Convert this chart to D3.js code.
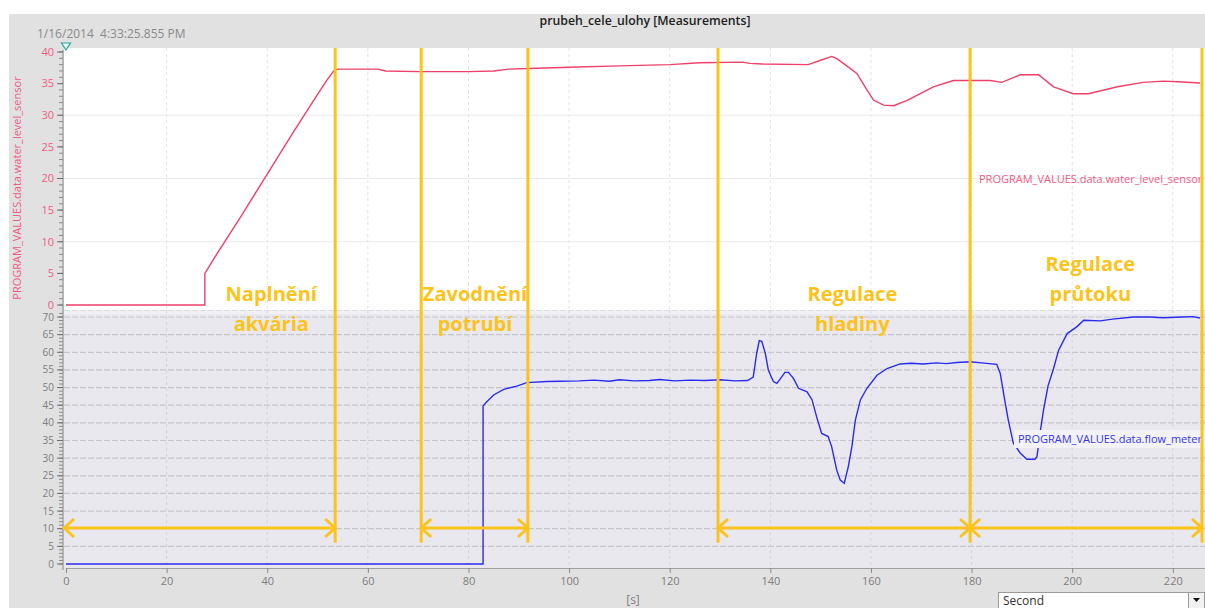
<!DOCTYPE html>
<html>
<head>
<meta charset="utf-8">
<script src="https://cdn.jsdelivr.net/npm/d3@7/dist/d3.min.js"></script>
<style>
  html, body { margin: 0; padding: 0; background: #ffffff; }
  svg { display: block; }
  text { font-family: "Open Sans", "Noto Sans", sans-serif; }
</style>
</head>
<body>
<svg id="chart" width="1205" height="608"></svg>
<script>
// ---- Recorded measurements: time [s] and value ----
const waterTime = [0, 27.6, 27.6, 30, 35, 40, 45, 50, 52, 53.2, 54, 58, 62, 63.5, 70, 80, 85, 88, 92, 100, 110, 120, 126, 134.4, 136, 138.4, 147.5, 150, 152.2, 153.3, 154.5, 157.2, 159.2, 160.5, 162.5, 164.5, 167.1, 169.8, 172.4, 176.4, 183.7, 186, 189.7, 193.3, 196.3, 200.2, 203.2, 209, 214.1, 218.1, 221, 225.4];
const waterLevel = [0, 0, 5.0, 8.1, 14.3, 20.7, 27.1, 33.3, 35.7, 37.0, 37.3, 37.3, 37.3, 37.0, 36.9, 36.9, 37.0, 37.3, 37.4, 37.6, 37.8, 38.0, 38.3, 38.4, 38.2, 38.1, 38.0, 38.7, 39.3, 38.9, 38.2, 36.6, 34.0, 32.4, 31.6, 31.5, 32.3, 33.4, 34.5, 35.5, 35.5, 35.2, 36.4, 36.4, 34.5, 33.4, 33.4, 34.5, 35.2, 35.4, 35.3, 35.1];

const flowTime = [0, 82.9, 82.9, 83.5, 85, 87, 89.6, 91.6, 95.6, 98.2, 102, 105, 108, 110, 113, 116, 118, 121, 124, 127, 130, 133, 135.5, 136.6, 137.3, 137.8, 138.3, 139, 139.6, 140.6, 141.3, 142.3, 142.9, 143.6, 144.6, 145.6, 147.3, 148.3, 149.2, 150.2, 151.5, 152.2, 153.2, 153.9, 154.7, 155.5, 156.2, 156.9, 157.9, 159.2, 161.2, 163.2, 165.8, 168, 170.4, 173, 175, 177.1, 179.7, 182, 185, 185.7, 186.7, 187.3, 188.3, 189.7, 191, 192.6, 193, 193.6, 194.3, 195.2, 196.3, 197.3, 199, 200.9, 202.3, 205.6, 208, 212.2, 215.5, 218, 222, 224, 225.4];
const flowValue = [0, 0, 44.8, 45.8, 47.9, 49.5, 50.4, 51.4, 51.7, 51.8, 51.9, 52.1, 51.8, 52.2, 51.9, 52.0, 52.3, 51.9, 52.1, 52.0, 52.2, 51.9, 52.0, 53.0, 59.8, 63.3, 63.1, 59.7, 55.0, 51.7, 51.2, 53.1, 54.3, 54.3, 52.6, 49.8, 48.8, 46.5, 41.7, 37.0, 36.1, 33.2, 26.6, 23.8, 22.9, 27.6, 33.2, 40.8, 46.5, 49.8, 53.5, 55.4, 56.7, 56.9, 56.7, 57.0, 56.8, 57.1, 57.3, 57.0, 56.6, 54.0, 45.5, 40.8, 34.2, 31.4, 29.7, 29.7, 30.4, 37.0, 43.6, 50.5, 55.4, 60.6, 65.3, 67.2, 69.1, 68.9, 69.4, 70.0, 70.0, 69.8, 70.0, 70.1, 69.7];

// ---- Phases of the task ----
const phaseBounds = [53.5, 70.6, 91.8, 129.6, 179.7, 225.8];
const phaseSpans = [[0, 53.5], [70.6, 91.8], [129.6, 179.7], [179.7, 225.8]];
const phaseLines1 = ["Naplnění", "Zavodnění", "Regulace", "Regulace"];
const phaseLines2 = ["akvária", "potrubí", "hladiny", "průtoku"];
const phaseCenters = [40.8, 81.3, 156.3, 203.6];

// ---- Axis ticks ----
const timeTicks = [0, 20, 40, 60, 80, 100, 120, 140, 160, 180, 200, 220];
const waterTicks = [0, 5, 10, 15, 20, 25, 30, 35, 40];
const flowTicks = [0, 5, 10, 15, 20, 25, 30, 35, 40, 45, 50, 55, 60, 65, 70];

// ---- Drawing ----
const svg = d3.select("#chart");
const W = 1205, H = 608;
const plotL = 64, plotR = 1205;
const topY0 = 48, topY1 = 310, botY0 = 310, botY1 = 568;

const x = d3.scaleLinear().domain([0, 226.4]).range([66, 1205]);
const yTop = d3.scaleLinear().domain([0, 40]).range([305, 52]);
const yBot = d3.scaleLinear().domain([0, 70]).range([564, 317]);

const pink = "#f0406a", pinkText = "#f15b83", blue = "#2a2af0", yellow = "#fcc31a";
const grayText = "#7d7d7d";

// window chrome
svg.append("rect").attr("x", 9).attr("y", 14).attr("width", W - 9).attr("height", H - 14).attr("fill", "#e1e1e1");

svg.append("text").attr("x", 645).attr("y", 25).attr("text-anchor", "middle")
  .attr("font-family", "Liberation Sans, Arial, sans-serif").attr("font-size", 12).attr("font-weight", 600)
  .attr("textLength", 211).attr("lengthAdjust", "spacingAndGlyphs").attr("fill", "#222")
  .text("prubeh_cele_ulohy [Measurements]");

svg.append("text").attr("x", 37).attr("y", 38).attr("font-size", 12).attr("fill", "#8a8a8a")
  .style("white-space", "pre").text("1/16/2014  4:33:25.855 PM");

// panels
svg.append("rect").attr("x", plotL).attr("y", topY0).attr("width", plotR - plotL).attr("height", topY1 - topY0).attr("fill", "#ffffff");
svg.append("rect").attr("x", plotL).attr("y", botY0).attr("width", plotR - plotL).attr("height", botY1 - botY0).attr("fill", "#e9e8ee");
svg.append("rect").attr("x", plotL).attr("y", botY0).attr("width", plotR - plotL).attr("height", 4).attr("fill", "#f1f0f4");

const defs = svg.append("defs");
defs.append("clipPath").attr("id", "clipTop").append("rect")
  .attr("x", plotL).attr("y", topY0).attr("width", plotR - plotL).attr("height", topY1 - topY0);
defs.append("clipPath").attr("id", "clipBot").append("rect")
  .attr("x", plotL).attr("y", botY0).attr("width", plotR - plotL).attr("height", botY1 - botY0);

// grid: upper panel
const gTop = svg.append("g").attr("clip-path", "url(#clipTop)");
gTop.selectAll("line.h").data([10, 20, 30]).join("line")
  .attr("x1", plotL).attr("x2", plotR).attr("y1", d => yTop(d)).attr("y2", d => yTop(d))
  .attr("stroke", "#ebebeb").attr("stroke-width", 1);
gTop.selectAll("line.v").data(timeTicks.slice(1)).join("line")
  .attr("x1", d => x(d)).attr("x2", d => x(d)).attr("y1", topY0).attr("y2", topY1)
  .attr("stroke", "#e2e2e2").attr("stroke-dasharray", "3,3");

// grid: lower panel
const gBot = svg.append("g").attr("clip-path", "url(#clipBot)");
gBot.selectAll("line.h").data(flowTicks.slice(1).concat([72])).join("line")
  .attr("x1", plotL).attr("x2", plotR).attr("y1", d => yBot(d)).attr("y2", d => yBot(d))
  .attr("stroke", "#c6c6ca").attr("stroke-width", 1.2).attr("stroke-dasharray", "6,2");
gBot.selectAll("line.v").data(timeTicks.slice(1)).join("line")
  .attr("x1", d => x(d)).attr("x2", d => x(d)).attr("y1", botY0).attr("y2", botY1)
  .attr("stroke", "#d2d2d8").attr("stroke-dasharray", "3,3");

// axes
function yAxisGroup(scale, ticks, minorMax, color, fontSize) {
  const g = svg.append("g");
  const minor = d3.range(0, minorMax + 1);
  g.selectAll("line.minor").data(minor).join("line")
    .attr("x1", 59).attr("x2", 63).attr("y1", d => scale(d)).attr("y2", d => scale(d))
    .attr("stroke", "#8a8a8a");
  g.selectAll("line.major").data(ticks).join("line")
    .attr("x1", 57).attr("x2", 63).attr("y1", d => scale(d)).attr("y2", d => scale(d))
    .attr("stroke", "#6f6f6f");
  g.selectAll("text").data(ticks).join("text")
    .attr("x", 54).attr("y", d => scale(d)).attr("dy", "0.35em").attr("text-anchor", "end")
    .attr("font-size", fontSize).attr("fill", color).text(d => d);
  return g;
}
svg.append("line").attr("x1", 63).attr("x2", 63).attr("y1", 50).attr("y2", 570).attr("stroke", "#8a8a8a");
yAxisGroup(yTop, waterTicks, 40, pinkText, 11);
yAxisGroup(yBot, flowTicks, 71, grayText, 10);

svg.append("text").attr("transform", "translate(21,188) rotate(-90)").attr("text-anchor", "middle")
  .attr("font-size", 11).attr("fill", pinkText).text("PROGRAM_VALUES.data.water_level_sensor");

// x axis
const xAxis = d3.axisBottom(x).tickValues(timeTicks).tickSize(5).tickPadding(4).tickFormat(d3.format("d"));
const gx = svg.append("g").attr("transform", `translate(0,${botY1})`).call(xAxis);
gx.select(".domain").attr("stroke", "#a0a0a0");
gx.selectAll(".tick line").attr("stroke", "#8a8a8a");
gx.selectAll(".tick text").attr("font-size", 11).attr("fill", grayText).attr("font-family", "Open Sans, sans-serif");
svg.append("text").attr("x", 633).attr("y", 604).attr("text-anchor", "middle").attr("font-size", 12).attr("fill", grayText).text("[s]");

// cursor marker
svg.append("path").attr("d", "M61.5,43 L70.5,43 L66,50 Z").attr("fill", "#e8f6f4").attr("stroke", "#27a39b").attr("stroke-width", 1.2);

// series
const waterData = waterTime.map((t, i) => [t, waterLevel[i]]);
const flowData = flowTime.map((t, i) => [t, flowValue[i]]);
gTop.append("path").datum(waterData)
  .attr("d", d3.line().x(d => x(d[0])).y(d => yTop(d[1])))
  .attr("fill", "none").attr("stroke", pink).attr("stroke-width", 1.4);
gBot.append("path").datum(flowData)
  .attr("d", d3.line().x(d => x(d[0])).y(d => yBot(d[1])))
  .attr("fill", "none").attr("stroke", blue).attr("stroke-width", 1.4);

// series labels
svg.append("text").attr("x", 979).attr("y", 183).attr("font-size", 11).attr("fill", pinkText)
  .text("PROGRAM_VALUES.data.water_level_sensor");
const gFlowLbl = svg.append("g").attr("clip-path", "url(#clipBot)");
gFlowLbl.append("rect").attr("x", 1014).attr("y", 430).attr("width", 200).attr("height", 18).attr("fill", "#f3f3f7");
gFlowLbl.append("text").attr("x", 1018).attr("y", 443).attr("font-size", 11).attr("fill", "#3434ee")
  .text("PROGRAM_VALUES.data.flow_meter");

// phase markers
const gPh = svg.append("g");
gPh.selectAll("line.bound").data(phaseBounds).join("line")
  .attr("x1", d => x(d)).attr("x2", d => x(d)).attr("y1", topY0).attr("y2", yBot(6))
  .attr("stroke", yellow).attr("stroke-width", 3);

const arrowY = yBot(10.2);
const head = 10, spread = 9;
phaseSpans.forEach(([a, b]) => {
  const xa = x(a) - (a === 0 ? 2 : 0), xb = x(b);
  gPh.append("line").attr("x1", xa).attr("x2", xb).attr("y1", arrowY).attr("y2", arrowY)
    .attr("stroke", yellow).attr("stroke-width", 3);
  gPh.append("path").attr("d", `M${xa + head},${arrowY - spread} L${xa},${arrowY} L${xa + head},${arrowY + spread}`)
    .attr("fill", "none").attr("stroke", yellow).attr("stroke-width", 3);
  gPh.append("path").attr("d", `M${xb - head},${arrowY - spread} L${xb},${arrowY} L${xb - head},${arrowY + spread}`)
    .attr("fill", "none").attr("stroke", yellow).attr("stroke-width", 3);
});

const labelBase = [301, 301, 301, 271];
phaseCenters.forEach((t, i) => {
  const txt = gPh.append("text").attr("text-anchor", "middle").attr("font-size", 20)
    .attr("font-weight", 700).attr("fill", yellow);
  txt.append("tspan").attr("x", x(t)).attr("y", labelBase[i]).text(phaseLines1[i]);
  txt.append("tspan").attr("x", x(t)).attr("y", labelBase[i] + 30).text(phaseLines2[i]);
});

// time unit selector
svg.append("rect").attr("x", 998.5).attr("y", 592.5).attr("width", 190).attr("height", 16).attr("fill", "#ffffff").attr("stroke", "#9a9a9a");
svg.append("text").attr("x", 1003).attr("y", 605).attr("font-size", 12).attr("fill", "#333").text("Second");
svg.append("rect").attr("x", 1188.5).attr("y", 592.5).attr("width", 16).attr("height", 16).attr("fill", "#f2f2f2").attr("stroke", "#9a9a9a");
svg.append("path").attr("d", "M1193,598 L1200,598 L1196.5,602 Z").attr("fill", "#111");
</script>
</body>
</html>
